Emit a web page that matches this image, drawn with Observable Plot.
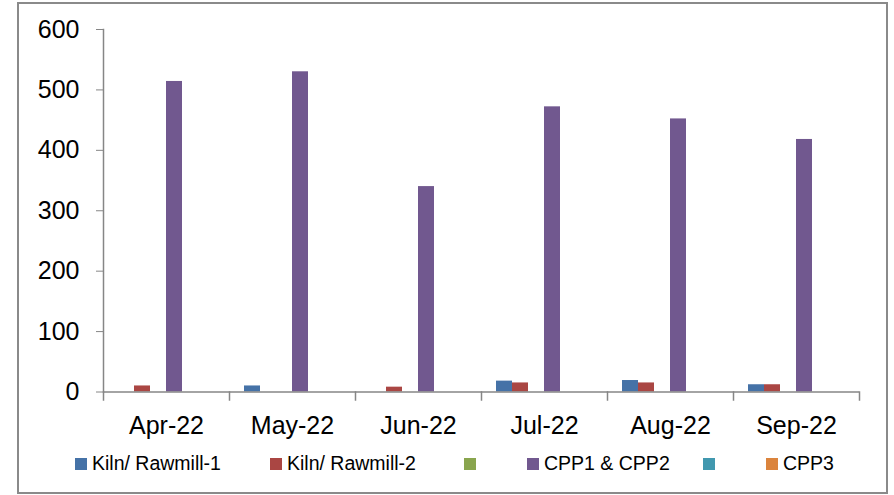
<!DOCTYPE html>
<html><head><meta charset="utf-8">
<script src="https://cdn.jsdelivr.net/npm/d3@7"></script>
<script src="https://cdn.jsdelivr.net/npm/@observablehq/plot@0.6"></script>
<style>
body{margin:0;background:#fff;font-family:"Liberation Sans",Arial,sans-serif;}
#wrap{position:relative;width:894px;height:495px;overflow:hidden;background:#fff;}
#box{position:absolute;left:17px;top:2px;width:867px;height:488px;border:2px solid #8a8a8a;}
#chart{position:absolute;left:0;top:0;}
#legend{position:absolute;top:453px;left:0;width:894px;height:21px;font-size:19.5px;color:#000;}
.item{position:absolute;top:0;display:flex;align-items:center;height:21px;white-space:nowrap;}
.sw{width:12px;height:12px;margin-right:5px;flex:none;}
</style></head>
<body>
<div id="wrap"><div id="box"></div><div id="chart"></div><div id="legend"></div></div>
<script>
// ---- data ----
const months = ["Apr-22", "May-22", "Jun-22", "Jul-22", "Aug-22", "Sep-22"];
const seriesKeys = ["kiln1", "kiln2", "s3", "cpp12", "s5", "cpp3"];
const seriesLabels = ["Kiln/ Rawmill-1", "Kiln/ Rawmill-2", "", "CPP1 & CPP2", "", "CPP3"];
const seriesColors = ["#4572A7", "#AA4643", "#89A54E", "#71588F", "#4198AF", "#DB843D"];
const kiln1 = [0, 10, 0, 18, 19, 12];
const kiln2 = [10, 0, 8, 15, 15, 12];
const s3 = [0, 0, 0, 0, 0, 0];
const cpp12 = [514, 530, 340, 472, 452, 418];
const s5 = [0, 0, 0, 0, 0, 0];
const cpp3 = [0, 0, 0, 0, 0, 0];
const yTicks = [0, 100, 200, 300, 400, 500, 600];
const legendLeft = [75, 270, 464, 527, 703, 766];

const valuesBySeries = [kiln1, kiln2, s3, cpp12, s5, cpp3];
const data = months.flatMap((m, i) => seriesKeys.map((k, j) => ({month: m, key: k, value: valuesBySeries[j][i]})));

const H = 450, MT = 29, MB = 58.5;
const axisGray = "#868686";
const chart = Plot.plot({
  width: 894, height: H,
  marginLeft: 103, marginRight: 35, marginTop: MT, marginBottom: MB,
  style: {fontFamily: "'Liberation Sans', Arial, sans-serif", fontSize: "25px", color: "black", background: "transparent"},
  fx: {domain: months, padding: 0, label: null},
  x: {domain: seriesKeys, paddingInner: 0, paddingOuter: 0.78, axis: null},
  y: {domain: [0, 600], label: null},
  color: {domain: seriesKeys, range: seriesColors},
  marks: [
    Plot.barY(data, {fx: "month", x: "key", y: "value", fill: "key"}),
    Plot.ruleY([0], {stroke: axisGray, strokeWidth: 1.5}),
    Plot.frame({anchor: "left", facetAnchor: "left", stroke: axisGray, strokeWidth: 1.5}),
    Plot.frame({anchor: "left", insetTop: H - MT - MB, insetBottom: -8, stroke: axisGray, strokeWidth: 1.5}),
    Plot.frame({anchor: "right", facetAnchor: "right", insetTop: H - MT - MB, insetBottom: -8, stroke: axisGray, strokeWidth: 1.5}),
    Plot.axisY(yTicks, {anchor: "left", tickSize: 7, tickPadding: 17, stroke: axisGray, fill: "black", fontSize: 25, label: null}),
    Plot.axisFx({anchor: "bottom", tickSize: 0, tickPadding: 24, fontSize: 25, fill: "black", label: null})
  ]
});
document.getElementById("chart").appendChild(chart);

const legend = document.getElementById("legend");
seriesKeys.forEach((k, j) => {
  const it = document.createElement("div");
  it.className = "item";
  it.style.left = legendLeft[j] + "px";
  const sw = document.createElement("span");
  sw.className = "sw";
  sw.style.background = seriesColors[j];
  const tx = document.createElement("span");
  tx.textContent = seriesLabels[j];
  it.appendChild(sw); it.appendChild(tx);
  legend.appendChild(it);
});
</script>
</body></html>
